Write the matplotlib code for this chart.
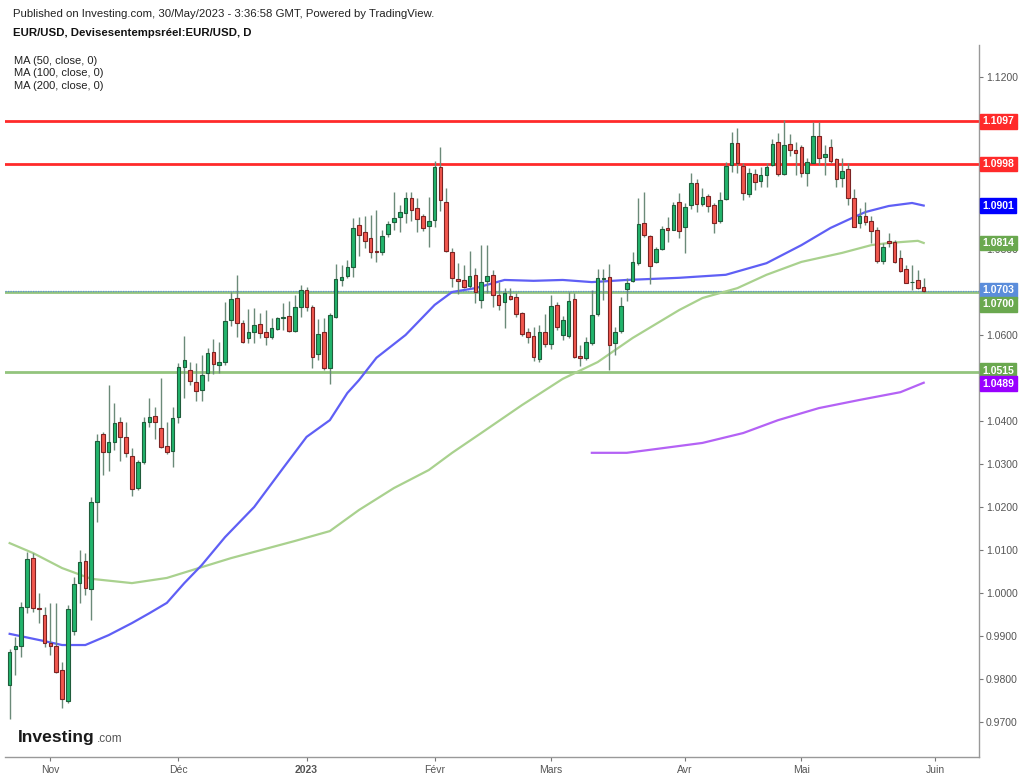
import matplotlib
matplotlib.use("Agg")
import matplotlib.pyplot as plt
import matplotlib.transforms as mtransforms
import numpy as np
import pandas as pd

plt.rcParams['font.family'] = ['Liberation Sans', 'DejaVu Sans']

######## data: EUR/USD daily, 21 Oct 2022 -> 30 May 2023 ########

opens = [
    0.9786, 0.9870, 0.9877, 0.9967, 1.0081, 0.9965, 0.9949,  # oct
    0.9884, 0.9877, 0.9821, 0.9749, 0.9912, 1.0023, 1.0074, 1.0009, 1.0212, 1.0370, 1.0328,
    1.0351, 1.0398, 1.0363, 1.0319, 1.0244, 1.0305, 1.0398, 1.0412, 1.0384, 1.0342, 1.0330,  # nov
    1.0409, 1.0526, 1.0519, 1.0491, 1.0472, 1.0512, 1.0560, 1.0530, 1.0537, 1.0635, 1.0686,
    1.0628, 1.0593, 1.0607, 1.0626, 1.0607, 1.0595, 1.0614, 1.0640, 1.0644, 1.0609, 1.0665,  # dec
    1.0705, 1.0665, 1.0556, 1.0607, 1.0523, 1.0642, 1.0728, 1.0737, 1.0758, 1.0856, 1.0840,
    1.0826, 1.0795, 1.0793, 1.0835, 1.0863, 1.0874, 1.0884, 1.0919, 1.0895, 1.0877, 1.0853,  # jan
    1.0867, 1.0991, 1.0909, 1.0793, 1.0730, 1.0728, 1.0714, 1.0740, 1.0681, 1.0726, 1.0740,
    1.0693, 1.0677, 1.0691, 1.0688, 1.0651, 1.0607, 1.0598, 1.0544, 1.0607,  # feb
    1.0579, 1.0670, 1.0600, 1.0598, 1.0684, 1.0551, 1.0547, 1.0581, 1.0649, 1.0730, 1.0735,
    1.0581, 1.0609, 1.0707, 1.0726, 1.0767, 1.0860, 1.0830, 1.0770, 1.0800, 1.0849, 1.0844,
    1.0909,  # mar
    1.0851, 1.0902, 1.0953, 1.0905, 1.0923, 1.0902, 1.0865, 1.0916, 1.0995, 1.1047, 1.0993,
    1.0928, 1.0974, 1.0958, 1.0972, 1.0995, 1.1049, 1.0974, 1.1044, 1.1030,  # apr
    1.1037, 1.0977, 1.1000, 1.1063, 1.1014, 1.1037, 1.1009, 1.0965, 1.0986, 1.0919, 1.0860,
    1.0877, 1.0865, 1.0844, 1.0772, 1.0819, 1.0816, 1.0779, 1.0753, 1.0723, 1.0728, 1.0712,  # may
]
highs = [
    0.9870, 0.9898, 0.9979, 1.0095, 1.0093, 1.0000, 0.9967,
    0.9977, 0.9977, 0.9840, 0.9972, 1.0037, 1.0100, 1.0093, 1.0223, 1.0370, 1.0374, 1.0484,
    1.0442, 1.0409, 1.0398, 1.0337, 1.0309, 1.0409, 1.0453, 1.0433, 1.0500, 1.0398, 1.0433,
    1.0535, 1.0598, 1.0537, 1.0535, 1.0553, 1.0570, 1.0591, 1.0584, 1.0677, 1.0700, 1.0740,
    1.0635, 1.0660, 1.0663, 1.0651, 1.0658, 1.0640, 1.0642, 1.0674, 1.0679, 1.0693, 1.0716,
    1.0712, 1.0670, 1.0637, 1.0640, 1.0651, 1.0765, 1.0763, 1.0774, 1.0872, 1.0874, 1.0877,
    1.0879, 1.0891, 1.0844, 1.0865, 1.0933, 1.0902, 1.0933, 1.0933, 1.0919, 1.0881, 1.0921,
    1.1005, 1.1037, 1.0942, 1.0802, 1.0767, 1.0763, 1.0795, 1.0756, 1.0809, 1.0809, 1.0751,
    1.0723, 1.0709, 1.0709, 1.0698, 1.0653, 1.0616, 1.0619, 1.0623, 1.0649,
    1.0693, 1.0677, 1.0644, 1.0700, 1.0698, 1.0577, 1.0595, 1.0705, 1.0753, 1.0753, 1.0765,
    1.0619, 1.0688, 1.0733, 1.0793, 1.0919, 1.0933, 1.0833, 1.0805, 1.0853, 1.0874, 1.0909,
    1.0930,
    1.0907, 1.0977, 1.0963, 1.0942, 1.0928, 1.0907, 1.0933, 1.1002, 1.1072, 1.1081, 1.1000,
    1.0988, 1.0986, 1.0991, 1.1000, 1.1056, 1.1070, 1.1100, 1.1067, 1.1049,
    1.1042, 1.1012, 1.1095, 1.1095, 1.1042, 1.1056, 1.1012, 1.1012, 1.1000, 1.0940, 1.0895,
    1.0909, 1.0877, 1.0851, 1.0814, 1.0837, 1.0821, 1.0798, 1.0763, 1.0763, 1.0751, 1.0733,
]
lows = [
    0.9707, 0.9809, 0.9851, 0.9953, 0.9956, 0.9930, 0.9874,
    0.9856, 0.9814, 0.9733, 0.9744, 0.9902, 0.9977, 0.9995, 0.9937, 1.0165, 1.0274, 1.0284,
    1.0333, 1.0307, 1.0316, 1.0226, 1.0240, 1.0300, 1.0386, 1.0358, 1.0337, 1.0323, 1.0293,
    1.0395, 1.0453, 1.0484, 1.0447, 1.0447, 1.0493, 1.0509, 1.0512, 1.0530, 1.0621, 1.0595,
    1.0581, 1.0581, 1.0581, 1.0593, 1.0577, 1.0591, 1.0612, 1.0612, 1.0607, 1.0607, 1.0642,
    1.0656, 1.0523, 1.0542, 1.0519, 1.0486, 1.0640, 1.0714, 1.0733, 1.0735, 1.0784, 1.0802,
    1.0779, 1.0770, 1.0786, 1.0828, 1.0844, 1.0840, 1.0860, 1.0865, 1.0840, 1.0842, 1.0805,
    1.0851, 1.0888, 1.0793, 1.0712, 1.0695, 1.0709, 1.0709, 1.0674, 1.0663, 1.0698, 1.0665,
    1.0658, 1.0616, 1.0681, 1.0642, 1.0598, 1.0581, 1.0540, 1.0537, 1.0572,
    1.0567, 1.0612, 1.0588, 1.0593, 1.0547, 1.0528, 1.0542, 1.0577, 1.0644, 1.0681, 1.0519,
    1.0553, 1.0605, 1.0679, 1.0723, 1.0763, 1.0828, 1.0719, 1.0767, 1.0798, 1.0816, 1.0844,
    1.0826,
    1.0791, 1.0893, 1.0886, 1.0900, 1.0886, 1.0837, 1.0860, 1.0914, 1.0979, 1.0977, 1.0914,
    1.0921, 1.0937, 1.0944, 1.0944, 1.0993, 1.0970, 1.0972, 1.1016, 1.0972,
    1.0967, 1.0947, 1.1000, 1.0995, 1.0972, 1.1000, 1.0944, 1.0944, 1.0902, 1.0851, 1.0849,
    1.0856, 1.0814, 1.0767, 1.0765, 1.0805, 1.0767, 1.0747, 1.0721, 1.0705, 1.0707, 1.0701,
]
closes = [
    0.9863, 0.9877, 0.9967, 1.0079, 0.9965, 0.9962, 0.9884,
    0.9877, 0.9816, 0.9753, 0.9963, 1.0021, 1.0072, 1.0012, 1.0212, 1.0353, 1.0328, 1.0351,
    1.0395, 1.0363, 1.0326, 1.0242, 1.0305, 1.0398, 1.0409, 1.0398, 1.0340, 1.0328, 1.0407,
    1.0526, 1.0542, 1.0493, 1.0470, 1.0507, 1.0558, 1.0533, 1.0537, 1.0633, 1.0684, 1.0628,
    1.0584, 1.0607, 1.0623, 1.0605, 1.0595, 1.0616, 1.0640, 1.0642, 1.0609, 1.0665, 1.0705,
    1.0665, 1.0549, 1.0602, 1.0523, 1.0647, 1.0730, 1.0735, 1.0758, 1.0849, 1.0833, 1.0819,
    1.0793, 1.0793, 1.0830, 1.0858, 1.0872, 1.0886, 1.0919, 1.0891, 1.0870, 1.0849, 1.0865,
    1.0991, 1.0914, 1.0795, 1.0733, 1.0726, 1.0712, 1.0737, 1.0700, 1.0723, 1.0737, 1.0693,
    1.0670, 1.0698, 1.0684, 1.0649, 1.0602, 1.0595, 1.0549, 1.0607, 1.0579,
    1.0667, 1.0619, 1.0635, 1.0679, 1.0549, 1.0547, 1.0584, 1.0647, 1.0733, 1.0733, 1.0577,
    1.0607, 1.0667, 1.0721, 1.0770, 1.0858, 1.0833, 1.0760, 1.0800, 1.0847, 1.0844, 1.0902,
    1.0842,
    1.0898, 1.0953, 1.0905, 1.0921, 1.0900, 1.0860, 1.0914, 1.0993, 1.1047, 1.1000, 1.0930,
    1.0977, 1.0956, 1.0972, 1.0991, 1.1044, 1.0974, 1.1042, 1.1030, 1.1023,
    1.0977, 1.1002, 1.1063, 1.1012, 1.1021, 1.1005, 1.0963, 1.0981, 1.0919, 1.0851, 1.0877,
    1.0863, 1.0842, 1.0772, 1.0805, 1.0814, 1.0770, 1.0749, 1.0721, 1.0724, 1.0709, 1.0703,
]

# moving averages, read at some bars (bar number from 21 Oct 2022)
ma50_bar = [0, 6, 9, 13, 17, 21, 24, 27, 30, 33, 37, 42, 47, 51, 55, 58, 60, 63, 68, 73,
            76, 80, 85, 90, 95, 100, 106, 115, 123, 130, 136, 141, 145, 147, 151, 155, 157]
ma50_val = [0.9905, 0.9888, 0.9879, 0.9879, 0.9902, 0.9930, 0.9953, 0.9977, 1.0023, 1.0065,
            1.0130, 1.0200, 1.0291, 1.0363, 1.0402, 1.0465, 1.0495, 1.0547, 1.0600, 1.0670,
            1.0700, 1.0709, 1.0728, 1.0726, 1.0728, 1.0723, 1.0728, 1.0733, 1.0740, 1.0767,
            1.0809, 1.0849, 1.0874, 1.0886, 1.0900, 1.0907, 1.0901]
ma100_bar = [0, 4, 9, 14, 21, 27, 32, 38, 49, 55, 60, 66, 72, 76, 81, 88, 95, 101, 107,
             115, 119, 125, 130, 136, 143, 148, 151, 156, 157]
ma100_val = [1.0116, 1.0093, 1.0058, 1.0033, 1.0023, 1.0035, 1.0056, 1.0081, 1.0121, 1.0144,
             1.0193, 1.0244, 1.0286, 1.0326, 1.0372, 1.0437, 1.0498, 1.0537, 1.0593, 1.0658,
             1.0686, 1.0709, 1.0740, 1.0770, 1.0791, 1.0809, 1.0814, 1.0819, 1.0814]
ma200_bar = [100, 106, 110, 119, 126, 132, 139, 146, 153, 157]
ma200_val = [1.0326, 1.0326, 1.0333, 1.0349, 1.0372, 1.0402, 1.0430, 1.0449, 1.0467, 1.0489]

# drawn levels
res_levels = [1.1097, 1.0998]
sup_levels = [1.0700, 1.0515]
last_price = 1.0703

# axis box labels (value, colour) and nudges so stacked boxes don't sit on each other
box_vals = [1.1097, 1.0998, 1.0901, 1.0814, 1.0703, 1.0700, 1.0515, 1.0489]
box_cols = ['#ff2a2a', '#ff2a2a', '#0000ff', '#6aa84f', '#5b8ddb', '#6aa84f', '#6aa84f', '#9900ff']
box_nudge = [0, 0, 0, 0, 0.0001, -0.0029, 0.0002, -0.0002]

month_names = ['Nov', 'Déc', '2023', 'Févr', 'Mars', 'Avr', 'Mai', 'Juin']

######## colours ########
UP = '#22b46c'
UP_EDGE = '#1f5d3b'
DOWN = '#f2574e'
DOWN_EDGE = '#7c2323'
WICK = '#6b8a79'
RED = '#ff2a2a'
GREEN = '#93c47d'
BLUE50 = '#5f5ff5'
GREEN100 = '#a9d18e'
PURPLE200 = '#b462f5'
GREY = '#555555'

o = np.array(opens)
h = np.array(highs)
l = np.array(lows)
c = np.array(closes)
n = len(c)
x = np.arange(n)

fig = plt.figure(figsize=(10.24, 7.76), dpi=100)
W, H = 1024, 776
ax = fig.add_axes([5 / W, (H - 757) / H, 974 / W, 712 / H])

# levels
for lv in res_levels:
    ax.axhline(lv, color=RED, lw=2, zorder=1)
for lv in sup_levels:
    ax.axhline(lv, color=GREEN, lw=2, zorder=1)
ax.axhline(last_price, color='#5b8ddb', lw=0.9, ls=(0, (1, 1)), zorder=1.2)

# moving averages
ax.plot(ma100_bar, ma100_val, color=GREEN100, lw=1.6, zorder=2)
ax.plot(ma50_bar, ma50_val, color=BLUE50, lw=1.6, zorder=2)
ax.plot(ma200_bar, ma200_val, color=PURPLE200, lw=1.6, zorder=2)

# candles
up = c >= o
ax.vlines(x, l, h, color=WICK, lw=1, zorder=3)
bottoms = np.minimum(o, c)
heights = np.maximum(np.abs(c - o), 0.00006)
ax.bar(x[up], heights[up], bottom=bottoms[up], width=0.62,
       color=UP, edgecolor=UP_EDGE, linewidth=0.8, zorder=4)
ax.bar(x[~up], heights[~up], bottom=bottoms[~up], width=0.62,
       color=DOWN, edgecolor=DOWN_EDGE, linewidth=0.8, zorder=4)

ax.set_xlim(-0.8, 166.5)
ax.set_ylim(0.96186, 1.12744)

# month ticks from business-day calendar
cal = pd.bdate_range('2022-10-21', '2023-06-05')
tick_pos = []
prev = cal[0].month
for i, d in enumerate(cal):
    if d.month != prev:
        tick_pos.append(i)
        prev = d.month
ax.set_xticks(tick_pos[:len(month_names)])
ax.set_xticklabels(month_names)
for t in ax.get_xticklabels():
    if t.get_text() == '2023':
        t.set_fontweight('bold')
        t.set_color('#333333')

# price ticks; the ones fully covered by a box are left without text
yt = np.round(np.arange(0.97, 1.1201, 0.01), 2)
covered = [1.11, 1.10, 1.09, 1.07, 1.05]
ax.set_yticks(yt)
ax.set_yticklabels(['' if v in covered else '%.4f' % v for v in yt])
ax.yaxis.tick_right()
ax.tick_params(axis='y', length=3, width=0.8, color='#777777', labelsize=7.5,
               labelcolor=GREY, pad=2)
ax.tick_params(axis='x', length=3, width=0.8, color='#777777', labelsize=7.5,
               labelcolor=GREY, pad=3)

for s in ['left', 'top']:
    ax.spines[s].set_visible(False)
for s in ['right', 'bottom']:
    ax.spines[s].set_color('#999999')
    ax.spines[s].set_linewidth(1)

# price boxes on the axis
tr = mtransforms.blended_transform_factory(ax.transAxes, ax.transData)
for val, col, nud in zip(box_vals, box_cols, box_nudge):
    ax.text(1.0035, val + nud, '%.4f' % val, transform=tr, ha='left', va='center',
            fontsize=7.5, fontweight='bold', color='white', zorder=10, clip_on=False,
            bbox=dict(boxstyle='square,pad=0.22', fc=col, ec=col))

# header
fig.text(13 / W, 1 - 14 / H, 'Published on Investing.com, 30/May/2023 - 3:36:58 GMT, Powered by TradingView.',
         fontsize=8.2, va='center', color='#222222')
fig.text(13 / W, 1 - 33 / H, 'EUR/USD, Devisesentempsréel:EUR/USD, D',
         fontsize=8.2, fontweight='bold', va='center', color='#111111')
for k, s in enumerate(['MA (50, close, 0)', 'MA (100, close, 0)', 'MA (200, close, 0)']):
    fig.text(14 / W, 1 - (61 + 12.5 * k) / H, s, fontsize=8, va='center', color='#222222')

# logo
fig.text(18 / W, 1 - 742 / H, 'Investing', fontsize=12.6, fontweight='bold',
         va='baseline', color='#1a1a1a')
fig.text(97 / W, 1 - 742 / H, '.com', fontsize=8.5, va='baseline', color='#555555')

fig.savefig('out.png', dpi=100)
